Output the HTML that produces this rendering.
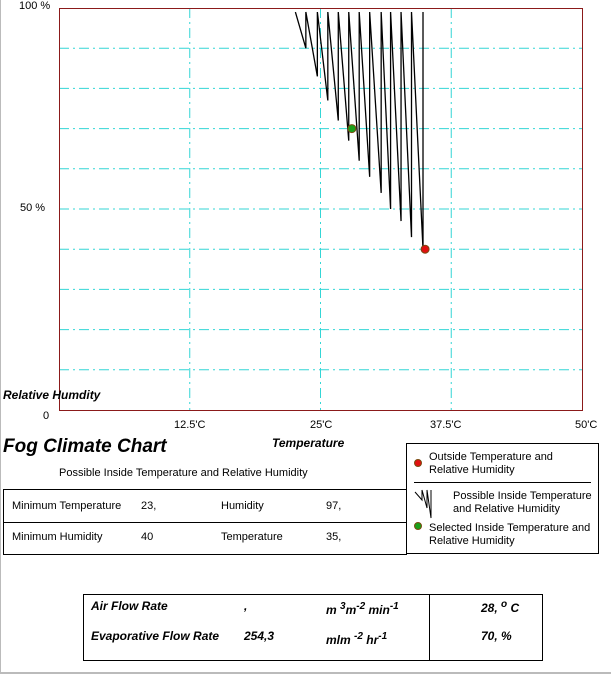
<!DOCTYPE html>
<html><head><meta charset="utf-8"><style>
body{margin:0;width:612px;height:674px;background:#fff;position:relative;overflow:hidden;font-family:"Liberation Sans",sans-serif;}
.t{position:absolute;font-size:11px;color:#000;white-space:nowrap;}
.b{font-style:italic;font-weight:bold;}
</style></head><body>
<div style="position:absolute;left:0;top:0;width:610px;height:672px;border-left:1px solid #bbb;border-bottom:2px solid #bbb;"></div>
<svg width="612" height="430" style="position:absolute;left:0;top:0" id="chart"></svg>
<div class="t" style="left:19px;top:0px;">100 %</div>
<div class="t" style="left:20px;top:202px;">50 %</div>
<div class="t" style="left:43px;top:410px;">0</div>
<div class="t b" style="left:3px;top:388px;font-size:12px;">Relative Humdity</div>
<div class="t" style="left:174px;top:419px;">12.5'C</div>
<div class="t" style="left:310px;top:419px;">25'C</div>
<div class="t" style="left:430px;top:419px;">37.5'C</div>
<div class="t" style="left:575px;top:419px;">50'C</div>
<div class="t b" style="left:272px;top:436px;font-size:12px;">Temperature</div>
<div class="t b" style="left:3px;top:436px;font-size:19px;">Fog Climate Chart</div>
<div class="t" style="left:59px;top:467px;">Possible Inside Temperature and Relative Humidity</div>
<div style="position:absolute;left:3px;top:489px;width:403px;height:64px;border:1px solid #000;border-right:none;">
<div style="position:absolute;left:0;top:32px;width:100%;border-top:1px solid #000;"></div>
<div class="t" style="left:8px;top:10px;">Minimum Temperature</div><div class="t" style="left:137px;top:10px;">23,</div><div class="t" style="left:217px;top:10px;">Humidity</div><div class="t" style="left:322px;top:10px;">97,</div>
<div class="t" style="left:8px;top:41px;">Minimum Humidity</div><div class="t" style="left:137px;top:41px;">40</div><div class="t" style="left:217px;top:41px;">Temperature</div><div class="t" style="left:322px;top:41px;">35,</div>
</div>
<div style="position:absolute;left:406px;top:443px;width:191px;height:109px;border:1px solid #000;">
<div style="position:absolute;left:7px;top:15px;width:6px;height:6px;border-radius:50%;background:#e01010;border:1px solid #7a4a10;"></div>
<div class="t" style="left:22px;top:7px;line-height:13px;">Outside Temperature and<br>Relative Humidity</div>
<div style="position:absolute;left:7px;top:38px;width:177px;border-top:1px solid #000;"></div>
<svg style="position:absolute;left:7px;top:44px" width="30" height="34"><polyline points="1,4 8,12 8,2 13,20 13,2 17,30 17,2" fill="none" stroke="#000"/></svg>
<div class="t" style="left:46px;top:46px;line-height:13px;">Possible Inside Temperature<br>and Relative Humidity</div>
<div style="position:absolute;left:7px;top:78px;width:6px;height:6px;border-radius:50%;background:#1aa01a;border:1px solid #7a4a10;"></div>
<div class="t" style="left:22px;top:78px;line-height:13px;">Selected Inside Temperature and<br>Relative Humidity</div>
</div>
<div style="position:absolute;left:83px;top:594px;width:458px;height:65px;border:1px solid #000;">
<div style="position:absolute;left:345px;top:0;height:100%;border-left:1px solid #000;"></div>
<div class="t b" style="left:7px;top:4px;font-size:12px;">Air Flow Rate</div>
<div class="t b" style="left:160px;top:4px;font-size:12px;">,</div>
<div class="t b" style="left:242px;top:6px;font-size:12px;">m <sup>3</sup>m<sup>-2</sup> min<sup>-1</sup></div>
<div class="t b" style="left:397px;top:4px;font-size:12px;">28, <sup>o</sup> C</div>
<div class="t b" style="left:7px;top:34px;font-size:12px;">Evaporative Flow Rate</div>
<div class="t b" style="left:160px;top:34px;font-size:12px;">254,3</div>
<div class="t b" style="left:242px;top:36px;font-size:12px;">mlm <sup>-2</sup> hr<sup>-1</sup></div>
<div class="t b" style="left:397px;top:34px;font-size:12px;">70, %</div>
</div>
<script>
const zigTemps=[22.6,23.6,24.7,25.7,26.7,27.7,28.7,29.7,30.8,31.7,32.7,33.7,34.8];
const zigLowHum=[90,83,77,72,67,62,58,54,50,47,43,40];
const zigTopHum=99;
const outsidePoint=[35,40];
const selectedPoint=[28,70];
const xTicks=[12.5,25,37.5];
const yGrid=[10,20,30,40,50,60,70,80,90];
const X=t=>59+t*(582-59)/50;
const Y=h=>410-h*(410-8)/100;
const svg=document.getElementById('chart');
const NS='http://www.w3.org/2000/svg';
function mk(tag,attrs){const e=document.createElementNS(NS,tag);for(const k in attrs)e.setAttribute(k,attrs[k]);svg.appendChild(e);return e;}
yGrid.forEach(h=>{const l=mk('line',{x1:59,x2:582,y1:Y(h),y2:Y(h),stroke:'#33d6d6','stroke-dasharray':'10 4 2 4'});

});
xTicks.forEach(t=>{const l=mk('line',{x1:X(t),x2:X(t),y1:8,y2:410,stroke:'#33d6d6','stroke-dasharray':'10 4 2 4'});

});
const f=mk('rect',{x:59.5,y:8.5,width:523,height:402,fill:'none',stroke:'#8b1a1a'});


let pts=[];
for(let i=0;i<zigTemps.length;i++){
 if(i>0)pts.push(X(zigTemps[i])+','+Y(zigLowHum[i-1]));
 pts.push(X(zigTemps[i])+','+Y(zigTopHum));
}
const z=mk('polyline',{points:pts.join(' '),fill:'none',stroke:'#000','stroke-width':1.3});


const o=mk('circle',{cx:X(outsidePoint[0]),cy:Y(outsidePoint[1]),r:4,fill:'#e01010',stroke:'#7a4a10'});


const s=mk('circle',{cx:X(selectedPoint[0]),cy:Y(selectedPoint[1]),r:4,fill:'#1aa01a',stroke:'#7a4a10'});


</script>
</body></html>
